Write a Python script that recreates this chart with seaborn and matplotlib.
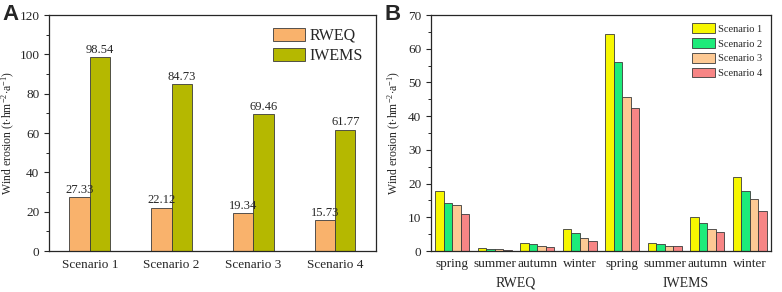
import pandas as pd
import matplotlib
matplotlib.use("Agg")
import matplotlib.pyplot as plt
import matplotlib.transforms as mtransforms
from matplotlib.ticker import MultipleLocator
import seaborn as sns

# ==== DATA ====
scenarios = ["Scenario 1", "Scenario 2", "Scenario 3", "Scenario 4"]
rweq_total = [27.33, 22.12, 19.34, 15.73]
iwems_total = [98.54, 84.73, 69.46, 61.77]

models = ["RWEQ", "IWEMS"]
seasons = ["spring", "summer", "autumn", "winter"]
# seasonal values, one list per scenario, order: RWEQ seasons then IWEMS seasons
s1_season = [17.8, 0.8, 2.5, 6.5, 64.5, 2.5, 10.0, 22.0]
s2_season = [14.3, 0.6, 2.0, 5.3, 56.2, 2.2, 8.4, 17.9]
s3_season = [13.7, 0.5, 1.6, 3.8, 45.7, 1.6, 6.5, 15.4]
s4_season = [11.1, 0.3, 1.3, 2.9, 42.5, 1.5, 5.6, 11.9]

# ==== COLORS ====
a_colors = {"RWEQ": "#F9B26C", "IWEMS": "#B5B800"}
b_colors = {"Scenario 1": "#F7F700", "Scenario 2": "#1DEB7A",
            "Scenario 3": "#FDC994", "Scenario 4": "#F78585"}

# ==== DATA PREP ====
df_a = pd.DataFrame({
    "Scenario": scenarios * 2,
    "Model": ["RWEQ"] * 4 + ["IWEMS"] * 4,
    "Value": rweq_total + iwems_total,
})

keys = [f"{m}-{s}" for m in models for s in seasons]
rows = []
for sc, vals in zip(scenarios, [s1_season, s2_season, s3_season, s4_season]):
    for k, v in zip(keys, vals):
        rows.append({"Key": k, "Scenario": sc, "Value": v})
df_b = pd.DataFrame(rows)

# ==== STYLE ====
sns.set_style("ticks")
plt.rcParams["font.family"] = ["Liberation Serif", "DejaVu Serif"]
plt.rcParams["mathtext.fontset"] = "custom"
plt.rcParams["mathtext.rm"] = "Liberation Serif"
plt.rcParams["mathtext.it"] = "Liberation Serif:italic"
plt.rcParams["axes.linewidth"] = 0.9

fig = plt.figure(figsize=(7.82, 2.92), dpi=100)
ax_a = fig.add_axes([0.0627, 0.1404, 0.418, 0.808])
ax_b = fig.add_axes([0.5512, 0.1404, 0.4348, 0.808])

ylab = r"Wind erosion (t$\cdot$hm$^{-2}$$\cdot$a$^{-1}$)"

# ==== PANEL A ====
sns.barplot(data=df_a, x="Scenario", y="Value", hue="Model", palette=a_colors,
            order=scenarios, hue_order=models, width=0.5, gap=0, saturation=1,
            edgecolor="#3a3a3a", linewidth=0.6, errorbar=None, ax=ax_a)
for cont in ax_a.containers:
    ax_a.bar_label(cont, fmt="%.2f", padding=1, fontsize=9)
ax_a.set_ylim(0, 120)
ax_a.set_xlim(-0.5, 3.5)
ax_a.yaxis.set_major_locator(MultipleLocator(20))
ax_a.yaxis.set_minor_locator(MultipleLocator(10))
ax_a.set_xlabel("")
ax_a.set_ylabel(ylab, fontsize=8.5)
ax_a.yaxis.set_label_coords(-0.097, 0.5)
ax_a.tick_params(axis="y", labelsize=9.5, length=3.5, width=0.8)
ax_a.tick_params(axis="y", which="minor", length=2, width=0.7)
ax_a.tick_params(axis="x", labelsize=9.5, length=0, pad=6)
ax_a.legend(loc="upper right", frameon=False, fontsize=11.5, handlelength=2.0,
            handleheight=0.9, handletextpad=0.3, labelspacing=0.25,
            borderaxespad=0.4)
for s in ax_a.spines.values():
    s.set_visible(True)

# ==== PANEL B ====
sns.barplot(data=df_b, x="Key", y="Value", hue="Scenario", palette=b_colors,
            order=keys, hue_order=scenarios, width=0.8, gap=0, saturation=1,
            edgecolor="#3a3a3a", linewidth=0.6, errorbar=None, ax=ax_b)
ax_b.set_ylim(0, 70)
ax_b.set_xlim(-0.5, 7.5)
ax_b.yaxis.set_major_locator(MultipleLocator(10))
ax_b.yaxis.set_minor_locator(MultipleLocator(5))
ax_b.set_xticks(range(len(keys)))
ax_b.set_xticklabels(seasons * 2)
ax_b.set_xlabel("")
ax_b.set_ylabel(ylab, fontsize=8.5)
ax_b.yaxis.set_label_coords(-0.082, 0.5)
ax_b.tick_params(axis="y", labelsize=9.5, length=3.5, width=0.8)
ax_b.tick_params(axis="y", which="minor", length=2, width=0.7)
ax_b.tick_params(axis="x", labelsize=9.5, length=0, pad=5)
trans = mtransforms.blended_transform_factory(ax_b.transData, ax_b.transAxes)
for i, m in enumerate(models):
    ax_b.text(i * 4 + 1.5, -0.11, m, transform=trans, ha="center", va="top",
              fontsize=10)
ax_b.legend(loc="upper right", frameon=False, fontsize=7.5, handlelength=2.2,
            handleheight=1.0, handletextpad=0.35, labelspacing=0.45,
            borderaxespad=0.4)
for s in ax_b.spines.values():
    s.set_visible(True)

# ==== PANEL LETTERS ====
fig.text(0.003, 0.985, "A", fontsize=16, fontweight="bold", family="Liberation Sans",
         va="top", ha="left")
fig.text(0.492, 0.985, "B", fontsize=16, fontweight="bold", family="Liberation Sans",
         va="top", ha="left")

fig.savefig("out.png", dpi=100)
